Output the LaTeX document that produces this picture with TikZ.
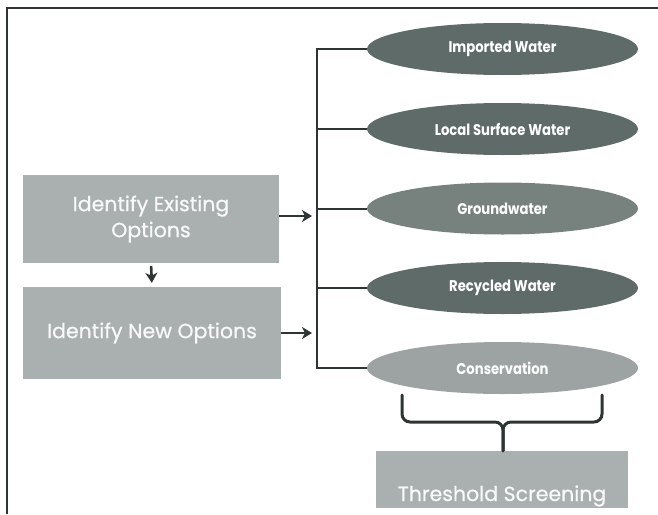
\documentclass[tikz,border=0pt]{standalone}
\usepackage{fontspec}
\newfontfamily\pop{Poppins}[FakeBold=0.6]
\newfontfamily\popc{Poppins}[FakeStretch=0.85]
\usetikzlibrary{shapes.geometric,arrows.meta}
\definecolor{boxgray}{HTML}{AAB0B0}
\definecolor{darkel}{HTML}{5F6B69}
\definecolor{midel}{HTML}{77827F}
\definecolor{lightel}{HTML}{9CA3A2}
\definecolor{linec}{HTML}{2E3433}
\begin{document}
\begin{tikzpicture}[x=1pt,y=-1pt,
  opt/.style={ellipse, minimum width=271pt, minimum height=52pt, inner sep=0pt,
    text=white, font=\popc\bfseries\fontsize{15.5}{17}\selectfont},
  stepbox/.style={rectangle, fill=boxgray, inner sep=0pt, text=white!95!gray,
    align=center, font=\pop\fontsize{20.5}{26}\selectfont},
  conn/.style={draw=linec, line width=2pt},
  arr/.style={draw=linec, line width=2.6pt, -{Stealth[length=10pt,width=12pt,inset=3pt]}},
  bracepath/.style={draw=linec, line width=3pt, rounded corners=8pt, line cap=round}]
\useasboundingbox (0,0) rectangle (658,514);
% frame
\draw[linec, line width=2.2pt] (7,514) -- (7,8) -- (658,8);
% ellipses
\node[opt, fill=darkel] (imp) at (502.5,49) {Imported Water};
\node[opt, fill=darkel] (loc) at (502.5,129) {Local Surface Water};
\node[opt, fill=midel] (gw) at (502.5,208.5) {Groundwater};
\node[opt, fill=darkel] (rec) at (502.5,288) {Recycled Water};
\node[opt, fill=lightel] (con) at (502.5,368) {Conservation};
% boxes
\node[stepbox, minimum width=256pt, minimum height=88pt] (exist) at (151,219) {Identify Existing\\Options};
\node[stepbox, minimum width=258pt, minimum height=92pt] (new) at (152,333) {Identify New Options};
\node[stepbox, minimum width=252pt, minimum height=57pt, text height=43pt, text depth=0pt] (thr) at (502,479.5) {Threshold Screening};
% bracket
\coordinate (vx) at (317,0);
\coordinate (tipx) at (312,0);
\draw[conn] (imp.west) -- (imp.west -| vx) |- (con.west);
\draw[conn] (loc.west) -- (loc.west -| vx);
\draw[conn] (gw.west) -- (gw.west -| vx);
\draw[conn] (rec.west) -- (rec.west -| vx);
% arrows
\draw[arr] ([yshift=3pt]exist.east) -- ([yshift=3pt]exist.east -| tipx);
\draw[arr] (new.east) -- (new.east -| tipx);
\draw[arr, shorten <=3pt, shorten >=4pt] (exist.south) -- (new.north);
% brace
\coordinate (bl) at (402,395);
\coordinate (br) at (602,395);
\coordinate (bm) at (503,422);
\draw[bracepath] (bl) -- (bl |- bm) -- (bm) -- (bm |- thr.north);
\draw[bracepath] (br) -- (br |- bm) -- (bm) -- (bm |- thr.north);
\end{tikzpicture}
\end{document}
